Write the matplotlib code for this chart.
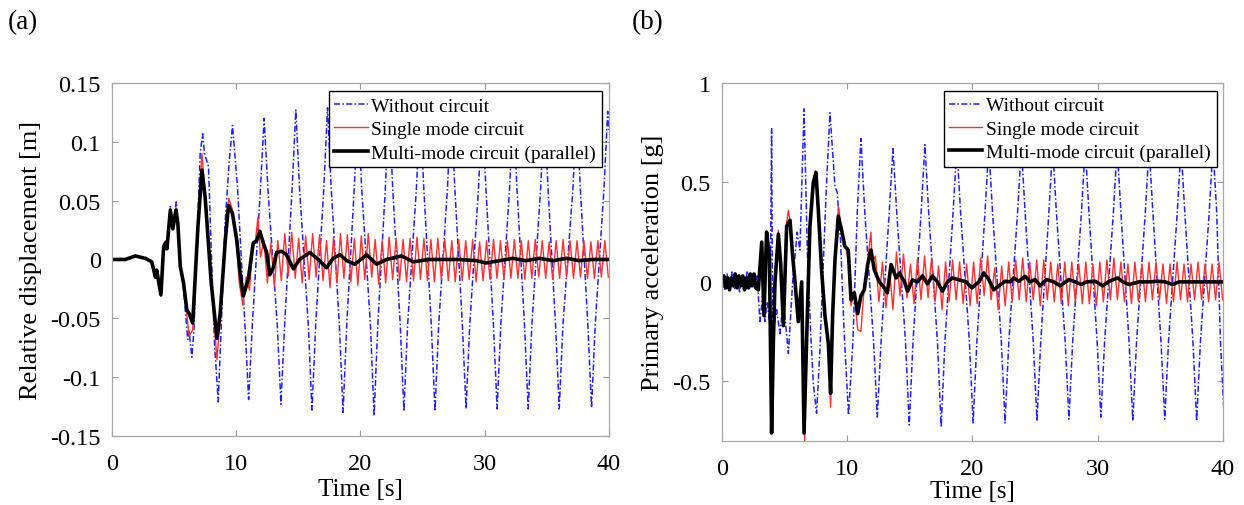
import numpy as np
import matplotlib
matplotlib.use("Agg")
from matplotlib import pyplot as plt

plt.rcParams["font.family"] = ["Liberation Serif", "DejaVu Serif"]
plt.rcParams["axes.unicode_minus"] = False

# ---------------- (a) relative displacement [m] ----------------
a_black_t = [0, 1.07, 1.88, 2.68, 3.2, 3.5, 3.6, 3.94, 4.16, 4.3, 4.42, 4.7, 4.9, 5.15, 5.3,
             5.5, 5.76, 6.03, 6.22, 6.5, 6.92, 7.24, 7.5, 7.99, 8.45, 8.71, 9.12, 9.38, 9.7,
             10.05, 10.32, 10.57, 10.97, 11.37, 11.64, 11.9, 12.18, 12.45, 12.7, 12.98, 13.25,
             13.65, 14.05, 14.6, 15.1, 15.93, 16.6, 17.27, 17.8, 18.35, 18.9, 19.55, 20.5, 21.3,
             22.1, 23.3, 24.25, 25.45, 26.65, 28.0, 29.34, 30.1, 31.2, 32.25, 33.3, 34.4, 35.5,
             36.6, 37.6, 38.7, 40.0]
a_black_v = [0, 0, 0.003, 0.001, -0.002, -0.015, -0.009, -0.030, 0.011, 0.014, 0.009, 0.042,
             0.026, 0.042, 0.031, -0.006, -0.020, -0.043, -0.046, -0.054, 0.028, 0.076, 0.053,
             -0.020, -0.067, -0.046, 0.016, 0.046, 0.039, 0.016, -0.012, -0.031, -0.017, 0.014,
             0.016, 0.024, 0.014, 0.006, -0.013, -0.007, 0.006, 0.007, 0.004, -0.008, 0.0,
             0.006, 0.0, -0.007, 0.001, 0.004, -0.001, -0.004, 0.004, -0.004, 0.0, 0.003,
             -0.002, 0.0, 0.0, 0.0, -0.001, -0.003, -0.001, 0.001, -0.001, 0.001, -0.001,
             0.001, -0.001, 0.0, 0.0]

a_red_head_t = [0, 1.07, 1.88, 2.68, 3.2, 3.5, 3.6, 3.94, 4.16, 4.3, 4.42, 4.7, 4.9, 5.15, 5.3,
                5.5, 5.6, 5.76, 6.03, 6.22, 6.5, 6.92, 7.24, 7.5, 7.99, 8.45, 8.71, 9.12, 9.4,
                9.7, 10.05, 10.25, 10.54, 10.8, 11.07, 11.34, 11.53, 11.75, 11.96]
a_red_head_v = [0, 0, 0.003, 0.001, -0.002, -0.015, -0.009, -0.030, 0.011, 0.016, 0.009, 0.044,
                0.026, 0.044, 0.031, -0.006, -0.012, -0.022, -0.048, -0.065, -0.060, 0.030,
                0.090, 0.055, -0.020, -0.085, -0.050, 0.018, 0.052, 0.042, 0.010, -0.020,
                -0.039, -0.015, -0.026, 0.015, 0.014, 0.036, 0.002]
# red oscillation after 12 s: one extreme every half period
a_red_t0 = 12.23
a_red_dt = 0.28
a_red_tail_v = [
    0.016, -0.020, 0.014, -0.023, 0.016, -0.018, 0.022, -0.014, 0.023, -0.016,
    0.018, -0.020, 0.020, -0.017, 0.022, -0.015, 0.021, -0.018, 0.016, -0.024,
    0.019, -0.020, 0.022, -0.016, 0.021, -0.019, 0.018, -0.022, 0.020, -0.017,
    0.022, -0.015, 0.017, -0.021, 0.016, -0.020, 0.019, -0.017, 0.018, -0.018,
    0.017, -0.019, 0.018, -0.018, 0.019, -0.017, 0.018, -0.018, 0.017, -0.019,
    0.018, -0.017, 0.017, -0.018, 0.016, -0.019, 0.017, -0.018, 0.016, -0.017,
    0.017, -0.019, 0.015, -0.018, 0.016, -0.017, 0.017, -0.016, 0.016, -0.017,
    0.016, -0.016, 0.017, -0.016, 0.016, -0.017, 0.016, -0.016, 0.017, -0.015,
    0.016, -0.016, 0.015, -0.017, 0.016, -0.016, 0.017, -0.015, 0.016, -0.016,
    0.016, -0.015, 0.016, -0.016, 0.015, -0.016, 0.016, -0.015, 0.016, -0.015]

a_blue_t = [0, 1.07, 1.88, 2.68, 3.2, 3.5, 3.6, 3.94, 4.16, 4.3, 4.42, 4.7, 4.9, 5.17, 5.3,
            5.5, 5.76, 6.1, 6.2, 6.43, 6.6, 6.9, 7.1, 7.3, 7.45, 7.77, 7.99, 8.25, 8.55, 8.75,
            9.1, 9.45, 9.7, 10.1, 10.7, 11.0, 11.3, 11.95, 12.25, 12.55, 13.3, 13.6, 13.9,
            14.5, 14.8, 15.1, 15.8, 16.1, 16.4, 17.05, 17.35, 17.65, 18.3, 18.6, 18.9, 19.5,
            19.8, 20.1, 20.8, 21.1, 21.4, 22.0, 22.3, 22.6, 23.2, 23.5, 23.8, 24.5, 24.8,
            25.1, 25.7, 26.0, 26.3, 27.0, 27.3, 27.6, 28.2, 28.5, 28.8, 29.5, 29.8, 30.1,
            30.7, 31.0, 31.3, 32.0, 32.3, 32.6, 33.2, 33.5, 33.8, 34.5, 34.8, 35.1, 35.7,
            36.0, 36.3, 37.1, 37.4, 37.7, 38.3, 38.6, 38.9, 39.6, 39.9, 40.0]
a_blue_v = [0, 0, 0.003, 0.001, -0.002, -0.016, -0.010, -0.031, 0.012, 0.015, 0.010, 0.045,
            0.028, 0.049, 0.035, -0.005, -0.025, -0.068, -0.060, -0.083, -0.060, 0.030,
            0.090, 0.107, 0.090, 0.079, 0.008, -0.070, -0.121, -0.070, 0.030, 0.085, 0.114,
            0.062, -0.055, -0.119, -0.055, 0.060, 0.120, 0.060, -0.055, -0.123, -0.055,
            0.060, 0.127, 0.060, -0.055, -0.128, -0.055, 0.060, 0.129, 0.060, -0.055,
            -0.130, -0.055, 0.060, 0.130, 0.060, -0.055, -0.133, -0.055, 0.060, 0.130,
            0.060, -0.055, -0.129, -0.055, 0.060, 0.129, 0.060, -0.055, -0.129, -0.055,
            0.060, 0.128, 0.060, -0.055, -0.127, -0.055, 0.060, 0.128, 0.060, -0.055,
            -0.127, -0.055, 0.060, 0.127, 0.060, -0.055, -0.127, -0.055, 0.060, 0.127,
            0.060, -0.055, -0.127, -0.055, 0.060, 0.127, 0.060, -0.055, -0.126, -0.055,
            0.060, 0.126, 0.110]

# ---------------- (b) primary acceleration [g] ----------------
b_black_t = [0, 0.15, 0.3, 0.45, 0.6, 0.75, 0.9, 1.05, 1.2, 1.35, 1.5, 1.65, 1.8, 1.95, 2.1,
             2.25, 2.4, 2.55, 2.7, 2.9, 3.17, 3.35, 3.56, 3.78, 3.96, 4.1, 4.23, 4.5, 4.68, 4.9,
             5.16, 5.43, 5.64, 5.83, 6.09, 6.36, 6.55, 6.81, 7.02, 7.29, 7.5, 7.69, 7.95, 8.22,
             8.49, 8.67, 8.83, 9.02, 9.28, 9.55, 9.8, 10.08, 10.3, 10.56, 10.83, 11.09, 11.36,
             11.63, 11.89, 12.16, 12.56, 12.96, 13.2, 13.5, 13.9, 14.16, 14.56, 14.82, 15.2,
             15.6, 16.0, 16.4, 16.8, 17.2, 17.6, 18.0, 18.4, 18.95, 19.5, 19.95, 20.5, 20.9,
             21.3, 21.7, 22.1, 22.6, 23.0, 23.3, 23.7, 24.2, 24.6, 25.0, 25.4, 25.9, 26.5,
             27.0, 27.7, 28.2, 28.7, 29.1, 29.8, 30.4, 30.9, 31.6, 32.0, 32.5, 33.3, 34.1,
             34.8, 35.4, 35.98, 36.5, 37.3, 38.4, 40.0]
b_black_v = [0, 0.03, -0.03, 0.02, -0.04, 0.02, -0.02, 0.04, -0.03, 0.03, -0.02, 0.03, -0.04,
             0.02, -0.03, 0.04, -0.02, 0.04, -0.03, -0.04, 0.20, -0.17, 0.25, 0.13, -0.76,
             -0.30, 0.0, 0.24, 0.095, -0.22, 0.28, 0.31, 0.13, 0.0, -0.20, 0.0, -0.76, -0.17,
             0.28, 0.50, 0.55, 0.36, 0.06, -0.17, -0.31, -0.56, -0.17, 0.11, 0.33, 0.26, 0.18,
             0.16, -0.09, -0.055, -0.16, -0.07, -0.04, 0.087, 0.16, 0.06, 0.0, -0.03, -0.055,
             0.087, 0.02, 0.045, 0.0, -0.047, 0.01, 0.0, 0.03, -0.01, 0.03, 0.0, -0.047, 0.0,
             0.02, 0.01, 0.0, -0.03, 0.0, 0.045, 0.012, -0.04, -0.02, 0.003, 0.0, 0.02, 0.003,
             0.028, 0.0, 0.012, -0.02, 0.012, 0.0, -0.02, 0.012, 0.0, -0.013, 0.0, 0.003,
             -0.02, 0.003, 0.02, 0.0, -0.013, 0.0, 0.0, 0.003, 0.0, -0.013, 0.0, 0.0, 0.0, 0.0]

b_red_head_t = [0, 0.15, 0.3, 0.45, 0.6, 0.75, 0.9, 1.05, 1.2, 1.35, 1.5, 1.65, 1.8, 1.95, 2.1,
                2.25, 2.4, 2.55, 2.7, 2.9, 3.17, 3.35, 3.56, 3.78, 3.96, 4.1, 4.23, 4.5, 4.68,
                4.9, 5.16, 5.3, 5.43, 5.64, 5.83, 6.09, 6.36, 6.6, 6.81, 7.02, 7.29, 7.45, 7.69,
                7.95, 8.22, 8.49, 8.67, 8.83, 9.02, 9.3, 9.55, 9.8, 10.1, 10.3, 10.56, 10.83,
                11.09, 11.36, 11.63, 11.89, 12.0]
b_red_head_v = [0, 0.03, -0.03, 0.02, -0.04, 0.02, -0.02, 0.04, -0.03, 0.03, -0.02, 0.03, -0.04,
                0.02, -0.03, 0.04, -0.02, 0.04, -0.03, -0.04, 0.20, -0.17, 0.25, 0.13, -0.74,
                -0.30, 0.0, 0.26, 0.10, -0.22, 0.30, 0.36, 0.30, 0.13, 0.02, -0.20, -0.02,
                -0.80, -0.17, 0.28, 0.50, 0.56, 0.38, 0.06, -0.17, -0.33, -0.63, -0.17, 0.11,
                0.38, 0.26, 0.20, 0.10, -0.12, -0.05, -0.24, -0.25, -0.02, 0.10, 0.25, 0.10]
b_red_t0 = 12.25
b_red_dt = 0.28
b_red_tail_v = [
    0.13, -0.10, 0.10, -0.13, 0.06, -0.14, 0.15, -0.07, 0.14, -0.08,
    0.09, -0.11, 0.12, -0.09, 0.13, -0.08, 0.12, -0.10, 0.08, -0.14,
    0.10, -0.10, 0.11, -0.09, 0.10, -0.11, 0.09, -0.12, 0.10, -0.11,
    0.12, -0.07, 0.13, -0.09, 0.07, -0.14, 0.08, -0.12, 0.10, -0.10,
    0.11, -0.09, 0.12, -0.10, 0.10, -0.09, 0.11, -0.12, 0.11, -0.09,
    0.10, -0.10, 0.09, -0.11, 0.10, -0.12, 0.10, -0.10, 0.09, -0.11,
    0.10, -0.11, 0.09, -0.12, 0.10, -0.10, 0.11, -0.09, 0.12, -0.09,
    0.10, -0.10, 0.09, -0.11, 0.10, -0.10, 0.09, -0.10, 0.10, -0.09,
    0.10, -0.09, 0.09, -0.11, 0.09, -0.10, 0.10, -0.09, 0.09, -0.10,
    0.09, -0.09, 0.10, -0.09, 0.09, -0.10, 0.09, -0.09, 0.10, -0.09]

b_blue_t = [0, 0.2, 0.4, 0.6, 0.8, 1.0, 1.2, 1.4, 1.6, 1.8, 2.0, 2.2, 2.4, 2.6, 2.8, 3.03, 3.24,
            3.43, 3.6, 3.83, 3.96, 4.04, 4.36, 4.63, 4.9, 5.3, 5.64, 6.0, 6.22, 6.55, 6.81,
            7.08, 7.29, 7.55, 7.82, 8.09, 8.35, 8.62, 9.02, 9.2, 9.47, 9.74, 10.1, 10.45, 10.8,
            11.09, 11.4, 12.1, 12.4, 12.7, 13.35, 13.65, 13.95, 14.65, 14.95, 15.25, 15.9,
            16.2, 16.5, 17.2, 17.5, 17.8, 18.45, 18.75, 19.05, 19.75, 20.05, 20.35, 21.0,
            21.3, 21.6, 22.3, 22.6, 22.9, 23.6, 23.9, 24.2, 24.85, 25.15, 25.45, 26.1, 26.4,
            26.7, 27.4, 27.7, 28.0, 28.7, 29.0, 29.3, 29.95, 30.25, 30.55, 31.25, 31.55,
            31.85, 32.5, 32.8, 33.1, 33.8, 34.1, 34.4, 35.05, 35.35, 35.65, 36.35, 36.65,
            36.95, 37.6, 37.9, 38.2, 38.9, 39.2, 39.5, 39.8, 40.1]
b_blue_v = [0, -0.04, 0.04, -0.03, 0.05, -0.04, 0.03, -0.05, 0.04, -0.03, 0.05, -0.04, 0.04,
            -0.03, 0.03, -0.20, -0.07, -0.20, -0.10, -0.22, 0.77, -0.27, -0.14, -0.26, -0.09,
            -0.36, 0.0, 0.25, 0.16, 0.87, 0.16, -0.26, -0.51, -0.66, -0.34, 0.10, 0.50, 0.85,
            0.48, 0.45, 0.20, -0.24, -0.67, -0.30, 0.35, 0.72, 0.35, -0.30, -0.68, -0.30,
            0.35, 0.67, 0.35, -0.30, -0.72, -0.30, 0.35, 0.69, 0.35, -0.30, -0.73, -0.30,
            0.35, 0.68, 0.35, -0.30, -0.71, -0.30, 0.35, 0.68, 0.35, -0.30, -0.71, -0.30,
            0.35, 0.68, 0.35, -0.30, -0.70, -0.30, 0.35, 0.68, 0.35, -0.30, -0.69, -0.30,
            0.35, 0.68, 0.35, -0.30, -0.68, -0.30, 0.35, 0.68, 0.35, -0.30, -0.70, -0.30,
            0.35, 0.68, 0.35, -0.30, -0.69, -0.30, 0.35, 0.68, 0.35, -0.30, -0.70, -0.30,
            0.35, 0.68, 0.35, -0.30, -0.69]

labels = ["Without circuit", "Single mode circuit", "Multi-mode circuit (parallel)"]


def red_series(head_t, head_v, t0, dt, tail_v):
    tail_t = t0 + dt * np.arange(len(tail_v))
    return np.concatenate([head_t, tail_t]), np.concatenate([head_v, tail_v])


def draw_panel(ax, blue_t, blue_v, red_t, red_v, black_t, black_v, ylim, yticks, ylabel, anchor,
               xpad):
    ax.plot(blue_t, blue_v, color="#1f1fff", lw=1.1, linestyle=(0, (4, 1.5, 1, 1.5)), label=labels[0])
    ax.plot(red_t, red_v, color="#ff3030", lw=1.0, label=labels[1])
    ax.plot(black_t, black_v, color="black", lw=2.6, label=labels[2])
    ax.set_xlim(0, 40)
    ax.set_ylim(*ylim)
    ax.set_xticks([0, 10, 20, 30, 40])
    ax.set_yticks(yticks)
    ax.set_yticklabels(["%g" % v for v in yticks])
    ax.tick_params(direction="in", length=4, width=0.8, color="#999999", top=True, right=True,
                   labelsize=17.5)
    ax.tick_params(axis="x", pad=12)
    ax.tick_params(axis="y", pad=8)
    for s in ax.spines.values():
        s.set_color("#a8a8a8")
        s.set_linewidth(0.9)
    ax.set_xlabel("Time [s]", fontsize=18, labelpad=xpad)
    ax.set_ylabel(ylabel, fontsize=19, labelpad=6)
    leg = ax.legend(loc="upper right", bbox_to_anchor=anchor, borderaxespad=0, fontsize=14,
                    fancybox=False, framealpha=1, edgecolor="black", handlelength=1.7,
                    handletextpad=0.2, labelspacing=0.3, borderpad=0.3)
    leg.get_frame().set_linewidth(1.0)


fig = plt.figure(figsize=(12.44, 5.06), dpi=100)
ax1 = fig.add_axes([0.090, 0.1364, 0.3995, 0.6976])
ax2 = fig.add_axes([0.5804, 0.1265, 0.4027, 0.7075])

a_red_t, a_red_v = red_series(a_red_head_t, a_red_head_v, a_red_t0, a_red_dt, a_red_tail_v)
b_red_t, b_red_v = red_series(b_red_head_t, b_red_head_v, b_red_t0, b_red_dt, b_red_tail_v)

draw_panel(ax1, a_blue_t, a_blue_v, a_red_t, a_red_v, a_black_t, a_black_v,
           (-0.15, 0.15), [-0.15, -0.1, -0.05, 0, 0.05, 0.1, 0.15],
           "Relative displacement [m]", (0.986, 0.977), 3)
draw_panel(ax2, b_blue_t, b_blue_v, b_red_t, b_red_v, b_black_t, b_black_v,
           (-0.8, 1.0), [-0.5, 0, 0.5, 1],
           "Primary acceleration [g]", (0.988, 0.978), 1)

fig.text(0.006, 0.956, "(a)", fontsize=19.5, va="center", ha="left")
fig.text(0.508, 0.956, "(b)", fontsize=19.5, va="center", ha="left")

fig.savefig("out.png", dpi=100)
